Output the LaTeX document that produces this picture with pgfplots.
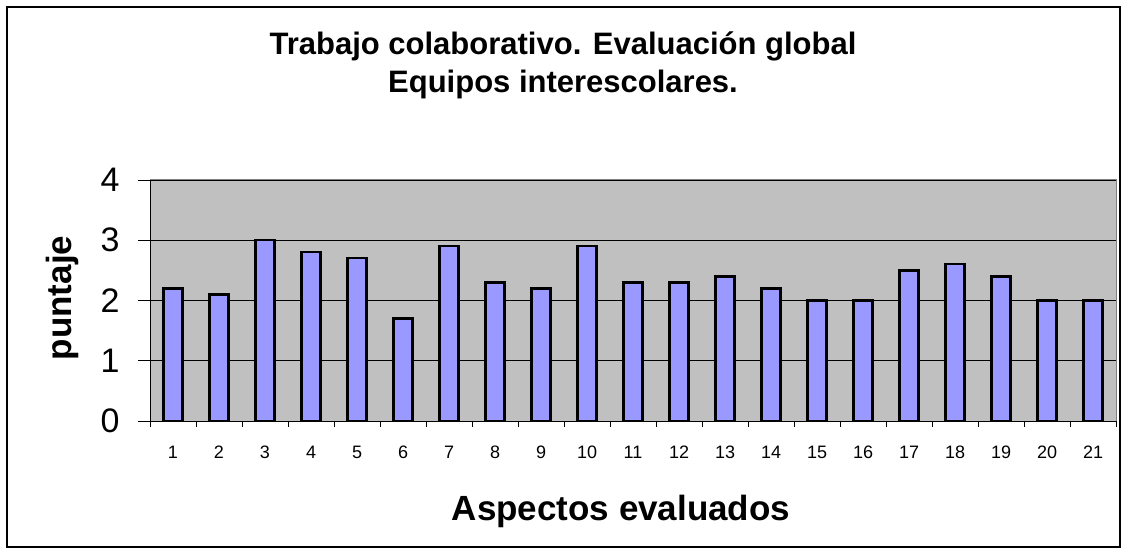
\documentclass[border=0pt]{standalone}
\usepackage{pgfplots}
\pgfplotsset{compat=1.18}
\usepackage{fontspec}
\setmainfont{Liberation Sans}
\definecolor{barfill}{HTML}{9999FF}
\definecolor{plotbg}{HTML}{C0C0C0}
\begin{document}
\begin{tikzpicture}[x=1bp,y=1bp]
\path (0,0) rectangle (1127,554);
\draw[line width=1.2bp] (7,7) rectangle (1120,547);
\begin{axis}[
  at={(150bp,133bp)}, anchor=south west,
  scale only axis, width=966bp, height=241bp,
  xmin=0.5, xmax=21.5, ymin=0, ymax=4,
  axis background/.style={fill=plotbg},
  axis x line*=bottom, axis y line*=left,
  axis line style={black, line width=0.8bp},
  xtick={1,...,21},
  minor xtick={0.5,1.5,...,21.5},
  major x tick style={draw=none},
  minor x tick style={black, line width=0.8bp},
  minor tick length=6bp,
  ytick={0,1,2,3,4},
  major y tick style={black, line width=0.8bp},
  major tick length=12bp,
  tick align=outside,
  ymajorgrids, grid style={black, line width=0.6bp},
  xticklabel style={font=\fontsize{18bp}{20bp}\selectfont, anchor=north, text height=13bp, text depth=0bp, yshift=-9bp},
  yticklabel style={font=\fontsize{34bp}{38bp}\selectfont, xshift=-15bp},
  /pgf/number format/assume math mode=true,
  clip=false,
]
\draw[gray, line width=1bp] (axis cs:0.5,4) -- (axis cs:21.5,4) -- (axis cs:21.5,0);
\addplot[ybar, bar width=19bp, fill=barfill, draw=black, line width=2.3bp] coordinates {
(1,2.2) (2,2.1) (3,3.0) (4,2.8) (5,2.7) (6,1.7) (7,2.9) (8,2.3) (9,2.2) (10,2.9)
(11,2.3) (12,2.3) (13,2.4) (14,2.2) (15,2.0) (16,2.0) (17,2.5) (18,2.6) (19,2.4) (20,2.0) (21,2.0)
};
\end{axis}
\node[font=\bfseries\fontsize{31bp}{37bp}\selectfont, anchor=base] at (563,499) {Trabajo colaborativo. Evaluación global};
\node[font=\bfseries\fontsize{31bp}{37bp}\selectfont, anchor=base] at (563,461) {Equipos interescolares.};
\node[font=\bfseries\fontsize{35bp}{40bp}\selectfont, anchor=base] at (621,33) {Aspectos evaluados};
\node[font=\bfseries\fontsize{35bp}{40bp}\selectfont, rotate=90] at (62,256) {puntaje};
\end{tikzpicture}
\end{document}
